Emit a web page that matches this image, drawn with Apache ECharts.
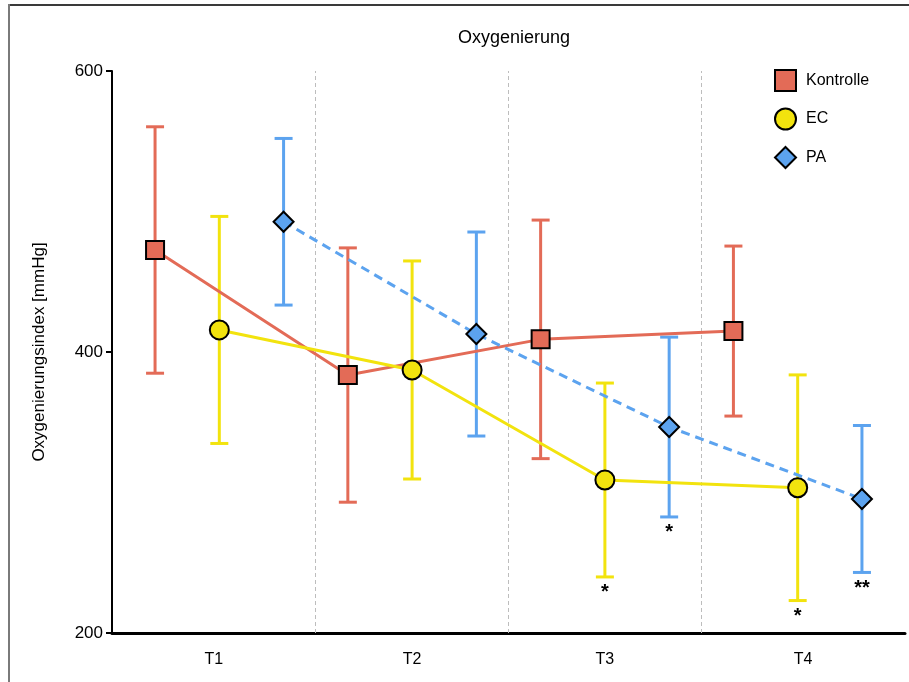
<!DOCTYPE html>
<html>
<head>
<meta charset="utf-8">
<script src="https://cdn.jsdelivr.net/npm/echarts@6/dist/echarts.min.js"></script>
<style>
html,body{margin:0;padding:0;background:#fff;}
#chart{width:909px;height:682px;}
</style>
</head>
<body>
<div id="chart"></div>
<script>
// ---- data ----
const categories = ['T1', 'T2', 'T3', 'T4'];
const groupNames = ['Kontrolle', 'EC', 'PA'];
const kontrolleMean = [472.6, 383.6, 409.0, 414.9];
const kontrolleSD   = [87.7, 90.5, 84.9, 60.5];
const ecMean        = [415.7, 387.2, 308.9, 303.4];
const ecSD          = [80.8, 77.6, 69.0, 80.3];
const paMean        = [492.7, 412.8, 346.6, 295.4];
const paSD          = [59.3, 72.6, 64.0, 52.3];
const kontrolleSig  = ['', '', '', ''];
const ecSig         = ['', '', '*', '*'];
const paSig         = ['', '', '*', '**'];
const yTicks = [200, 400, 600];

// ---- build ----
const groups = [
  { name: groupNames[0], mean: kontrolleMean, sd: kontrolleSD, sig: kontrolleSig, color: '#E36B57', symbol: 'rect', size: 18, dash: 'solid' },
  { name: groupNames[1], mean: ecMean, sd: ecSD, sig: ecSig, color: '#F2E30E', symbol: 'circle', size: 19, dash: 'solid' },
  { name: groupNames[2], mean: paMean, sd: paSD, sig: paSig, color: '#5CA3EF', symbol: 'diamond', size: 20, dash: [9, 6] }
];
const nG = groups.length;
const xMin = -0.67, xMax = 3 * categories.length - 0.33;
const sepValues = categories.slice(1).map((c, i) => (i + 1) * nG - 0.5);
const labelPos = categories.map((c, i) => {
  const lo = i === 0 ? xMin : i * nG - 0.5;
  const hi = i === categories.length - 1 ? xMax : (i + 1) * nG - 0.5;
  return (lo + hi) / 2;
});

const series = [];
groups.forEach((g, gi) => {
  const errData = g.mean.map((m, t) => [t * nG + gi, m - g.sd[t], m + g.sd[t]]);
  series.push({
    type: 'custom',
    name: g.name + '_err',
    z: 2,
    silent: true,
    data: errData,
    renderItem: function (params, api) {
      const x = api.value(0), lo = api.value(1), hi = api.value(2);
      const pTop = api.coord([x, hi]);
      const pBot = api.coord([x, lo]);
      const hw = 9;
      const st = { stroke: g.color, lineWidth: 3, fill: null };
      const children = [
        { type: 'line', shape: { x1: pTop[0], y1: pTop[1], x2: pBot[0], y2: pBot[1] }, style: st },
        { type: 'line', shape: { x1: pTop[0] - hw, y1: pTop[1], x2: pTop[0] + hw, y2: pTop[1] }, style: st },
        { type: 'line', shape: { x1: pBot[0] - hw, y1: pBot[1], x2: pBot[0] + hw, y2: pBot[1] }, style: st }
      ];
      const s = g.sig[params.dataIndex];
      if (s) {
        children.push({
          type: 'text',
          style: {
            text: s, x: pBot[0], y: pBot[1] + 6,
            align: 'center', verticalAlign: 'top',
            font: 'bold 20px "Liberation Sans", Arial, sans-serif', fill: '#000'
          }
        });
      }
      return { type: 'group', children: children };
    }
  });
  const lineSeries = {
    type: 'line',
    name: g.name,
    z: 3,
    data: g.mean.map((m, t) => [t * nG + gi, m]),
    symbol: g.symbol,
    symbolSize: g.size,
    showAllSymbol: true,
    itemStyle: { color: g.color, borderColor: '#000', borderWidth: 2 },
    lineStyle: { color: g.color, width: 3, type: g.dash },
    emphasis: { disabled: true }
  };
  if (gi === 0) {
    lineSeries.markLine = {
      silent: true,
      symbol: 'none',
      label: { show: false },
      lineStyle: { color: '#bdbdbd', type: [4, 3], width: 1 },
      z: 1,
      data: sepValues.map(v => ({ xAxis: v }))
    };
  }
  series.push(lineSeries);
});

const chart = echarts.init(document.getElementById('chart'), null, { renderer: 'canvas' });
chart.setOption({
  animation: false,
  backgroundColor: '#fff',
  textStyle: { fontFamily: '"Liberation Sans", Arial, sans-serif' },
  title: {
    text: 'Oxygenierung',
    left: 509, top: 24, textAlign: 'center',
    textStyle: { fontSize: 18, fontWeight: 'normal', color: '#000', fontFamily: '"Liberation Sans", Arial, sans-serif' }
  },
  graphic: [
    { type: 'line', shape: { x1: 8, y1: 5, x2: 909, y2: 5 }, style: { stroke: '#3a3a3a', lineWidth: 2 } },
    { type: 'line', shape: { x1: 9, y1: 4, x2: 9, y2: 682 }, style: { stroke: '#7a7a7a', lineWidth: 2 } }
  ],
  legend: {
    orient: 'vertical',
    left: 769, top: 64,
    itemWidth: 21, itemHeight: 21, itemGap: 15.5,
    selectedMode: false,
    textStyle: { fontSize: 16, color: '#000', padding: [0, 0, 0, 5] },
    data: groups.map(g => ({
      name: g.name, icon: g.symbol,
      itemStyle: { color: g.color, borderColor: '#000', borderWidth: 2 }
    }))
  },
  grid: { left: 112, right: 4, top: 71, bottom: 49, containLabel: false },
  xAxis: {
    type: 'value',
    min: xMin, max: xMax,
    axisLine: { show: true, onZero: false, lineStyle: { color: '#000', width: 3 } },
    axisTick: { show: false },
    splitLine: { show: false },
    axisLabel: {
      customValues: labelPos,
      formatter: function (v) {
        let best = 0, bd = Infinity;
        labelPos.forEach((p, i) => { const d = Math.abs(p - v); if (d < bd) { bd = d; best = i; } });
        return categories[best];
      },
      fontSize: 16, color: '#000', margin: 19
    }
  },
  yAxis: {
    type: 'value',
    min: yTicks[0], max: yTicks[yTicks.length - 1], interval: 200,
    name: 'Oxygenierungsindex [mmHg]',
    nameLocation: 'middle', nameRotate: 90, nameGap: 64,
    nameTextStyle: { fontSize: 17, color: '#000' },
    axisLine: { show: true, onZero: false, lineStyle: { color: '#000', width: 2 } },
    axisTick: { show: true, length: 6, lineStyle: { color: '#000', width: 2 } },
    splitLine: { show: false },
    axisLabel: { fontSize: 17, color: '#000', margin: 9 }
  },
  series: series
});
</script>
</body>
</html>
